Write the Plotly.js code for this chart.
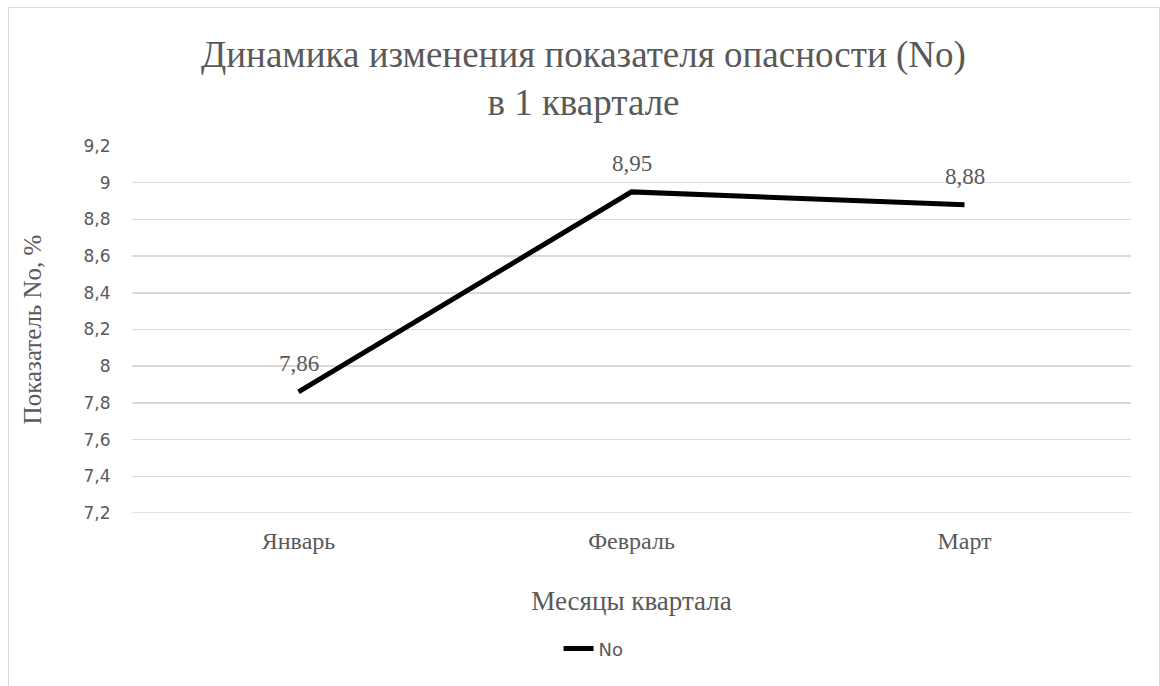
<!DOCTYPE html>
<html>
<head>
<meta charset="utf-8">
<script src="https://cdn.plot.ly/plotly-3.0.1.min.js"></script>
<style>
  html, body { margin: 0; padding: 0; background: #fff; }
  #chart { width: 1160px; height: 686px; }
  #frame { position: absolute; left: 8px; top: 7px; width: 1150px; height: 700px;
           border: 1.5px solid #d9d9d9; pointer-events: none; }
</style>
</head>
<body>
<div id="chart"></div>
<div id="frame"></div>
<script>
const categories = ['Январь', 'Февраль', 'Март'];
const values = [7.86, 8.95, 8.88];
const seriesName = 'No';
const titleText = 'Динамика изменения показателя опасности (No)<br>в 1 квартале';
const xTitle = 'Месяцы квартала';
const yTitle = 'Показатель No, %';
const yMin = 7.2, yMax = 9.2, yStep = 0.2;

const labels = values.map(v => v.toFixed(2).replace('.', ','));
const gray = '#595959';
const serif = 'Liberation Serif';
const sans = 'DejaVu Sans';

const trace = {
  type: 'scatter',
  mode: 'lines',
  x: categories,
  y: values,
  name: seriesName,
  line: { color: '#000000', width: 5 },
  hoverinfo: 'none'
};

const annotations = categories.map((c, i) => ({
  x: c, y: values[i], xref: 'x', yref: 'y',
  text: labels[i], showarrow: false,
  yanchor: 'bottom', yshift: 14,
  font: { family: serif, size: 23, color: gray }
}));

const layout = {
  width: 1160, height: 686,
  margin: { l: 132, r: 29, t: 146, b: 173 },
  paper_bgcolor: '#ffffff', plot_bgcolor: '#ffffff',
  separators: ', ',
  showlegend: true,
  title: {
    text: titleText,
    font: { family: serif, size: 37, color: gray },
    x: 0.503, xref: 'container', xanchor: 'center',
    y: 0.903, yref: 'container', yanchor: 'top'
  },
  xaxis: {
    type: 'category',
    range: [-0.5, 2.5],
    showgrid: false, zeroline: false, showline: false,
    ticks: 'outside', ticklen: 6, tickcolor: 'rgba(0,0,0,0)',
    tickfont: { family: serif, size: 24, color: gray },
    title: { text: xTitle, font: { family: serif, size: 27, color: gray }, standoff: 38 },
    automargin: true
  },
  yaxis: {
    range: [yMin, yMax], dtick: yStep, tick0: yMin,
    showgrid: true, gridcolor: '#d9d9d9', gridwidth: 1.5,
    zeroline: false, showline: false,
    ticks: 'outside', ticklen: 17, tickcolor: 'rgba(0,0,0,0)',
    tickfont: { family: sans, size: 17, color: gray },
    title: { text: yTitle, font: { family: serif, size: 25, color: gray }, standoff: 34 },
    automargin: true
  },
  shapes: [{
    type: 'line', xref: 'paper', yref: 'y', x0: 0, x1: 1, y0: yMin, y1: yMin,
    line: { color: '#d9d9d9', width: 1.5 }, layer: 'below'
  }],
  legend: {
    orientation: 'h', x: 0.462, xanchor: 'center', xref: 'paper',
    y: -0.37, yanchor: 'middle',
    font: { family: sans, size: 18, color: gray }
  },
  annotations: annotations
};

Plotly.newPlot('chart', [trace], layout, { displayModeBar: false, staticPlot: true });
</script>
</body>
</html>
